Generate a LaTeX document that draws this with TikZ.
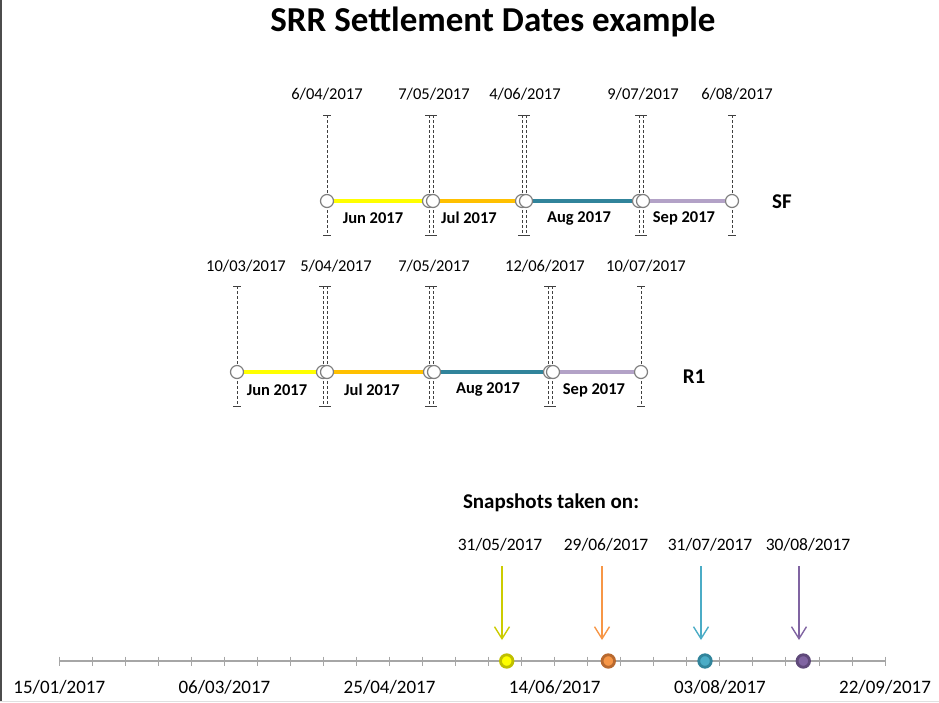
\documentclass[tikz,border=0pt]{standalone}
\usepackage{fontspec}
\setmainfont{Carlito}
\usetikzlibrary{arrows.meta}
\definecolor{ringgray}{HTML}{7F7F7F}
\definecolor{guidegray}{HTML}{404040}
\definecolor{axisgray}{HTML}{A6A6A6}
\definecolor{segyellow}{HTML}{FFFF00}
\definecolor{segorange}{HTML}{FFC000}
\definecolor{segteal}{HTML}{31849B}
\definecolor{seglav}{HTML}{B3A2C7}
\definecolor{snapyellow}{HTML}{CCCC00}
\definecolor{snaporange}{HTML}{F79646}
\definecolor{snapblue}{HTML}{4BACC6}
\definecolor{snappurple}{HTML}{8064A2}
\definecolor{dotyellow}{HTML}{BFBF00}
\definecolor{dotorange}{HTML}{B8692F}
\definecolor{dotblue}{HTML}{31849B}
\definecolor{dotpurple}{HTML}{5F497A}
\begin{document}
\begin{tikzpicture}[x=1pt,y=-1pt,
    datelbl/.style={font=\fontsize{16.5}{19}\selectfont},
    monthlbl/.style={font=\bfseries\fontsize{16.5}{19}\selectfont},
    rowlbl/.style={font=\bfseries\fontsize{21}{24}\selectfont},
    ringdot/.style={circle,draw=ringgray,fill=white,line width=1.2pt,minimum size=13pt,inner sep=0pt},
    guide/.style={draw=guidegray,line width=0.7pt,dash pattern=on 3pt off 2pt},
    guidecap/.style={draw=guidegray,line width=0.7pt},
    seg/.style={line width=4.5pt},
    snapdot/.style={circle,line width=2.8pt,minimum size=12.5pt,inner sep=0pt},
    snaparrow/.style={line width=1.4pt,-{Straight Barb[length=12pt,width=15pt]}},
    axislbl/.style={font=\fontsize{19}{22}\selectfont},
    snaplbl/.style={font=\fontsize{17.5}{20}\selectfont}]
    \useasboundingbox (0,0) rectangle (939,702);
    % frame edges
    \draw[black!70,line width=1.5pt] (0.75,0) -- (0.75,702);
    \draw[black!12,line width=1pt] (0,701.5) -- (939,701.5);

    \node[font=\bfseries\fontsize{35}{41}\selectfont] (title) at (493,22) {SRR Settlement Dates example};

    % SF row: dashed guides
    \foreach \x in {327,732} {
        \draw[guide] (\x,115) -- (\x,235);
        \draw[guidecap] (\x-4,115) -- (\x+4,115) (\x-4,235) -- (\x+4,235);
    }
    \foreach \x in {431,524,641} {
        \draw[guide] (\x-2,115) -- (\x-2,235) (\x+2,115) -- (\x+2,235);
        \draw[guidecap] (\x-6,115) -- (\x+6,115) (\x-6,235) -- (\x+6,235);
    }

    % SF row: settlement points
    \node[ringdot] (sf1) at (327,201) {};
    \node[ringdot] (sf2a) at (429,201) {}; \node[ringdot] (sf2) at (433,201) {};
    \node[ringdot] (sf3a) at (522,201) {}; \node[ringdot] (sf3) at (526,201) {};
    \node[ringdot] (sf4a) at (639,201) {}; \node[ringdot] (sf4) at (643,201) {};
    \node[ringdot] (sf5) at (732,201) {};

    \draw[seg,segyellow] (sf1) -- (sf2a);
    \draw[seg,segorange] (sf2) -- (sf3a);
    \draw[seg,segteal] (sf3) -- (sf4a);
    \draw[seg,seglav] (sf4) -- (sf5);

    \node[datelbl] (sfd1) at (327,94) {6/04/2017};
    \node[datelbl] (sfd2) at (434,94) {7/05/2017};
    \node[datelbl] (sfd3) at (525,94) {4/06/2017};
    \node[datelbl] (sfd4) at (643,94) {9/07/2017};
    \node[datelbl] (sfd5) at (737,94) {6/08/2017};

    \node[monthlbl] (sfm1) at (373,218) {Jun 2017};
    \node[monthlbl] (sfm2) at (469,218) {Jul 2017};
    \node[monthlbl] (sfm3) at (579,218) {Aug 2017};
    \node[monthlbl] (sfm4) at (684,218) {Sep 2017};
    \node[rowlbl] (sf) at (782,202) {SF};

    % R1 row: dashed guides
    \foreach \x in {237,641} {
        \draw[guide] (\x,286) -- (\x,406);
        \draw[guidecap] (\x-4,286) -- (\x+4,286) (\x-4,406) -- (\x+4,406);
    }
    \foreach \x in {325,431,550} {
        \draw[guide] (\x-2,286) -- (\x-2,406) (\x+2,286) -- (\x+2,406);
        \draw[guidecap] (\x-6,286) -- (\x+6,286) (\x-6,406) -- (\x+6,406);
    }

    % R1 row: settlement points
    \node[ringdot] (r1) at (237,372) {};
    \node[ringdot] (r2a) at (323,372) {}; \node[ringdot] (r2) at (327,372) {};
    \node[ringdot] (r3a) at (430,372) {}; \node[ringdot] (r3) at (434,372) {};
    \node[ringdot] (r4a) at (550,372) {}; \node[ringdot] (r4) at (553,372) {};
    \node[ringdot] (r5) at (641,372) {};

    \draw[seg,segyellow] (r1) -- (r2a);
    \draw[seg,segorange] (r2) -- (r3a);
    \draw[seg,segteal] (r3) -- (r4a);
    \draw[seg,seglav] (r4) -- (r5);

    \node[datelbl] (rd1) at (246,266) {10/03/2017};
    \node[datelbl] (rd2) at (336,266) {5/04/2017};
    \node[datelbl] (rd3) at (434,266) {7/05/2017};
    \node[datelbl] (rd4) at (545,266) {12/06/2017};
    \node[datelbl] (rd5) at (646,266) {10/07/2017};

    \node[monthlbl] (rm1) at (277,390) {Jun 2017};
    \node[monthlbl] (rm2) at (372,390) {Jul 2017};
    \node[monthlbl] (rm3) at (488,389) {Aug 2017};
    \node[monthlbl] (rm4) at (594,390) {Sep 2017};
    \node[rowlbl] (r) at (694,377) {R1};

    % snapshots
    \node[font=\bfseries\fontsize{21}{24}\selectfont] (snaps) at (551,503) {Snapshots taken on:};
    \node[snaplbl] (s1) at (500,545) {31/05/2017};
    \node[snaplbl] (s2) at (606,545) {29/06/2017};
    \node[snaplbl] (s3) at (710,545) {31/07/2017};
    \node[snaplbl] (s4) at (808,545) {30/08/2017};

    \foreach \x/\c [count=\i] in {502/snapyellow,602/snaporange,701/snapblue,799/snappurple} {
        \coordinate (arr\i s) at (\x,566);
        \coordinate (arr\i e) at (\x,640);
        \draw[snaparrow,\c] (arr\i s) -- (arr\i e);
    }

    % time axis
    \coordinate (ax0) at (59.3,661);
    \coordinate (ax1) at (885,661);
    \draw[axisgray,line width=1.2pt] (ax0) -- (ax1);
    \foreach \k in {0,...,25}
        \draw[axisgray,line width=1pt] (59.3+33.03*\k,656.5) -- ++(0,9);
    \foreach \d [count=\i from 0] in {15/01/2017,06/03/2017,25/04/2017,14/06/2017,03/08/2017,22/09/2017}
        \node[axislbl] (axd\i) at (59.3+165.15*\i,687) {\d};

    \node[snapdot,draw=dotyellow,fill=segyellow] (dot1) at (506.7,661) {};
    \node[snapdot,draw=dotorange,fill=snaporange] (dot2) at (608.3,661) {};
    \node[snapdot,draw=dotblue,fill=snapblue] (dot3) at (705,661) {};
    \node[snapdot,draw=dotpurple,fill=snappurple] (dot4) at (803.3,661) {};
\end{tikzpicture}
\end{document}
